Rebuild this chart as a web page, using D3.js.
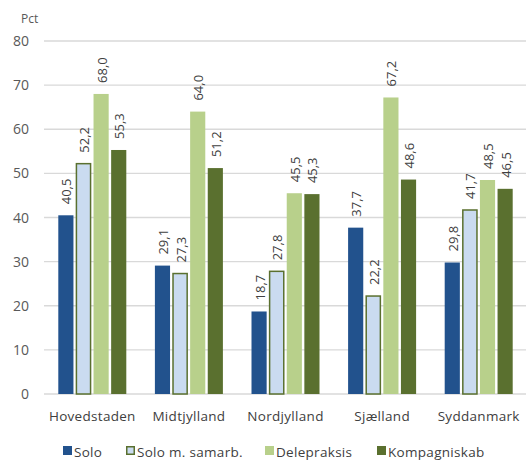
<!DOCTYPE html>
<html><head><meta charset="utf-8">
<script src="https://cdn.jsdelivr.net/npm/d3@7"></script>
<style>body{margin:0;background:#fff}svg{display:block}text{font-family:"Open Sans",sans-serif}</style>
</head><body>
<svg id="c" width="526" height="461"></svg>
<script>
const categories = ["Hovedstaden","Midtjylland","Nordjylland","Sjælland","Syddanmark"];
const seriesNames = ["Solo","Solo m. samarb.","Delepraksis","Kompagniskab"];
const solo = [40.5, 29.1, 18.7, 37.7, 29.8];
const soloSamarb = [52.2, 27.3, 27.8, 22.2, 41.7];
const delepraksis = [68.0, 64.0, 45.5, 67.2, 48.5];
const kompagniskab = [55.3, 51.2, 45.3, 48.6, 46.5];
const yTicks = [0,10,20,30,40,50,60,70,80];
const seriesValues = [solo, soloSamarb, delepraksis, kompagniskab];
const fills = ["#22528D","#CADBF0","#B8D08B","#5A702F"];
const strokes = [null,"#5A702F",null,null];

const svg = d3.select("#c");
const m = {l:44, r:527, t:41, b:394};
const x0 = d3.scaleBand().domain(categories).range([m.l, m.r]).paddingInner(0).paddingOuter(0);
const x1 = d3.scaleBand().domain(seriesNames).range([0, 68]).paddingInner(0.14);
const y = d3.scaleLinear().domain([0,80]).range([m.b, m.t]);

// gridlines
svg.append("g").selectAll("line").data(yTicks).join("line")
  .attr("x1", m.l).attr("x2", 526).attr("y1", d=>y(d)).attr("y2", d=>y(d))
  .attr("stroke","#D9D9D9").attr("stroke-width",1.3);

// y tick labels
svg.append("g").selectAll("text").data(yTicks).join("text")
  .attr("x", 29).attr("y", d=>y(d)).attr("dy","0.36em").attr("text-anchor","end")
  .attr("font-size",14).attr("fill","#595959").text(d=>d);

svg.append("text").attr("x",21).attr("y",23).attr("font-size",12).attr("fill","#595959").text("Pct");

const fmt = v => v.toFixed(1).replace(".", ",");

seriesNames.forEach((s, si) => {
  const g = svg.append("g");
  const vals = seriesValues[si];
  g.selectAll("rect").data(categories).join("rect")
    .attr("x", (c)=> x0(c) + x0.bandwidth()/2 - 34 + x1(s) + (strokes[si]?0.5:0))
    .attr("width", x1.bandwidth() - (strokes[si]?1:0))
    .attr("y", (c,i)=> y(vals[i]))
    .attr("height", (c,i)=> y(0) - y(vals[i]))
    .attr("fill", fills[si])
    .attr("stroke", strokes[si] || "none")
    .attr("stroke-width", strokes[si]?1.5:0);
  g.selectAll("text").data(categories).join("text")
    .attr("transform", (c,i)=> {
      const cx = x0(c) + x0.bandwidth()/2 - 34 + x1(s) + x1.bandwidth()/2 + 1;
      return `translate(${cx},${y(vals[i]) - 11}) rotate(-90)`;
    })
    .attr("dy","0.35em")
    .attr("font-size",13).attr("fill","#404040")
    .text((c,i)=> fmt(vals[i]));
});

// category labels
svg.append("g").selectAll("text").data(categories).join("text")
  .attr("x", c=> x0(c)+x0.bandwidth()/2).attr("y", 421).attr("text-anchor","middle")
  .attr("font-size",13.5).attr("fill","#404040").attr("letter-spacing","0.3").text(c=>c);

// legend
const legX = [63, 126, 265, 377];
const leg = svg.append("g");
seriesNames.forEach((s, si) => {
  leg.append("rect").attr("x", legX[si] + (strokes[si]?0.75:0)).attr("y", 446 + (strokes[si]?0.75:0))
    .attr("width", 9 - (strokes[si]?1.5:0)).attr("height", 9 - (strokes[si]?1.5:0))
    .attr("fill", fills[si]).attr("stroke", strokes[si]||"none").attr("stroke-width",1.5);
  leg.append("text").attr("x", legX[si]+11).attr("y", 457).attr("font-size",13.5)
    .attr("fill","#404040").attr("letter-spacing","0.3").text(s);
});
</script>
</body></html>
